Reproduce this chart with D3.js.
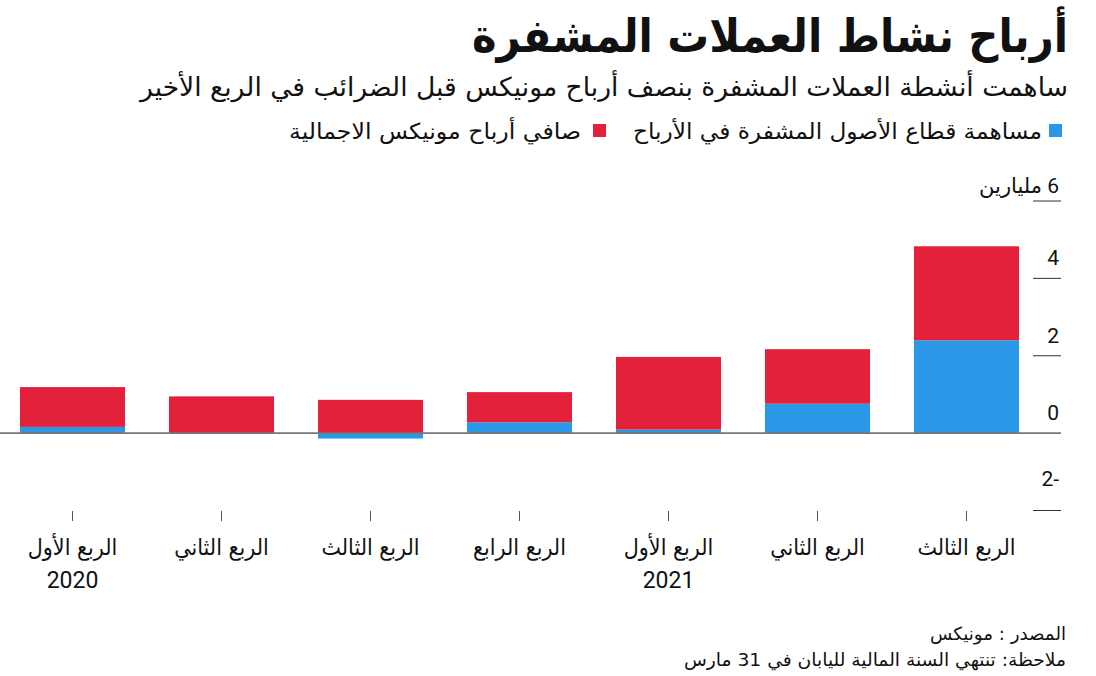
<!DOCTYPE html>
<html>
<head>
<meta charset="utf-8">
<script src="https://cdn.jsdelivr.net/npm/d3@7"></script>
<style>
  body { margin: 0; background: #fff; }
  svg text { font-family: "DejaVu Sans Condensed", "DejaVu Sans", sans-serif; fill: #111; }
</style>
</head>
<body>
<svg id="chart" width="1096" height="676"></svg>
<script>
// quarters, left to right
var quarters = ["الربع الأول", "الربع الثاني", "الربع الثالث", "الربع الرابع", "الربع الأول", "الربع الثاني", "الربع الثالث"];
var years = ["2020", "", "", "", "2021", "", ""];
// billions of yen
var cryptoContribution = [0.16, 0.0, -0.14, 0.28, 0.09, 0.76, 2.40];
var restOfProfit = [1.03, 0.95, 0.86, 0.78, 1.88, 1.41, 2.43];
var yTicks = [-2, 0, 2, 4, 6];

var svg = d3.select("#chart"),
    blue = "#2a97e7",
    red = "#e4213a";

var rows = quarters.map(function(q, i) {
  return { i: i, crypto: cryptoContribution[i], rest: restOfProfit[i] };
});

var x = d3.scaleBand().domain(d3.range(quarters.length)).range([20, 1019]).paddingInner(0.295).paddingOuter(0);
var y = d3.scaleLinear().domain([-2, 6]).range([510.5, 201]);

// right-aligned arabic text (rtl: "start" is the right edge)
function rtext(sel, txt, xr, yb, size, weight, len) {
  var t = sel.append("text")
    .attr("x", xr).attr("y", yb)
    .attr("direction", "rtl")
    .attr("text-anchor", "start")
    .style("font-size", size + "px")
    .style("font-weight", weight)
    .text(txt);
  if (len) t.attr("textLength", len).attr("lengthAdjust", "spacingAndGlyphs");
  return t;
}

rtext(svg, "أرباح نشاط العملات المشفرة", 1068, 52, 46, "bold", 596);
rtext(svg, "ساهمت أنشطة العملات المشفرة بنصف أرباح مونيكس قبل الضرائب في الربع الأخير", 1068, 96, 26, "normal", 928);

// legend
var legend = [
  { label: "مساهمة قطاع الأصول المشفرة في الأرباح", color: blue, sq: 1049, right: 1042, len: 409 },
  { label: "صافي أرباح مونيكس الاجمالية", color: red, sq: 593, right: 581, len: 292 }
];
legend.forEach(function(d) {
  svg.append("rect").attr("x", d.sq).attr("y", 124).attr("width", 13).attr("height", 13).attr("fill", d.color);
  rtext(svg, d.label, d.right, 139, 22, "normal", d.len);
});

// y axis ticks on the right
var g = svg.append("g");
g.selectAll(".ytick").data(yTicks.filter(function(t) { return t !== 0; }))
  .enter().append("line")
  .attr("x1", 1033).attr("x2", 1061)
  .attr("y1", function(d) { return y(d); }).attr("y2", function(d) { return y(d); })
  .attr("stroke", "#333").attr("stroke-width", 1);

g.selectAll(".ylab").data(yTicks)
  .enter().append("text")
  .attr("x", 1059)
  .attr("y", function(d) {
    // label sits above its tick line; the -2 label is set higher in the original
    if (d === 6) return y(d) - 8;
    if (d === -2) return y(d) - 25;
    return y(d) - 13;
  })
  .attr("direction", "rtl")
  .attr("text-anchor", "start")
  .style("font-size", "21px")
  .style("font-family", "Roboto, 'DejaVu Sans', sans-serif")
  .text(function(d) { return d === 6 ? "6 مليارين" : String(d); });

// bars
var stack = d3.stack().keys(["crypto", "rest"]).offset(d3.stackOffsetDiverging);
var series = stack(rows);
var colors = { crypto: blue, rest: red };

g.selectAll(".series").data(series)
  .enter().append("g")
  .attr("fill", function(s) { return colors[s.key]; })
  .selectAll("rect").data(function(s) { return s; })
  .enter().append("rect")
  .attr("x", function(d) { return x(d.data.i); })
  .attr("width", x.bandwidth())
  .attr("y", function(d) { return y(Math.max(d[0], d[1])); })
  .attr("height", function(d) { return Math.abs(y(d[0]) - y(d[1])); });

// zero line
g.append("line")
  .attr("x1", 0).attr("x2", 1061)
  .attr("y1", y(0)).attr("y2", y(0))
  .attr("stroke", "#777").attr("stroke-width", 1.6);

// x ticks and labels
var xg = g.selectAll(".xt").data(d3.range(quarters.length)).enter().append("g")
  .attr("transform", function(i) { return "translate(" + (x(i) + x.bandwidth() / 2) + ",0)"; });
xg.append("line").attr("y1", 511).attr("y2", 521).attr("stroke", "#555").attr("stroke-width", 1);
xg.append("text").attr("y", 555).attr("text-anchor", "middle").attr("direction", "rtl")
  .style("font-size", "23px")
  .text(function(i) { return quarters[i]; });
xg.append("text").attr("y", 588).attr("text-anchor", "middle")
  .style("font-size", "23px")
  .style("font-family", "Roboto, 'DejaVu Sans', sans-serif")
  .text(function(i) { return years[i]; });

// footer
rtext(svg, "المصدر : مونيكس", 1066, 640, 18, "normal", 136);
rtext(svg, "ملاحظة: تنتهي السنة المالية لليابان في 31 مارس", 1066, 666, 18, "normal", 382);
</script>
</body>
</html>
